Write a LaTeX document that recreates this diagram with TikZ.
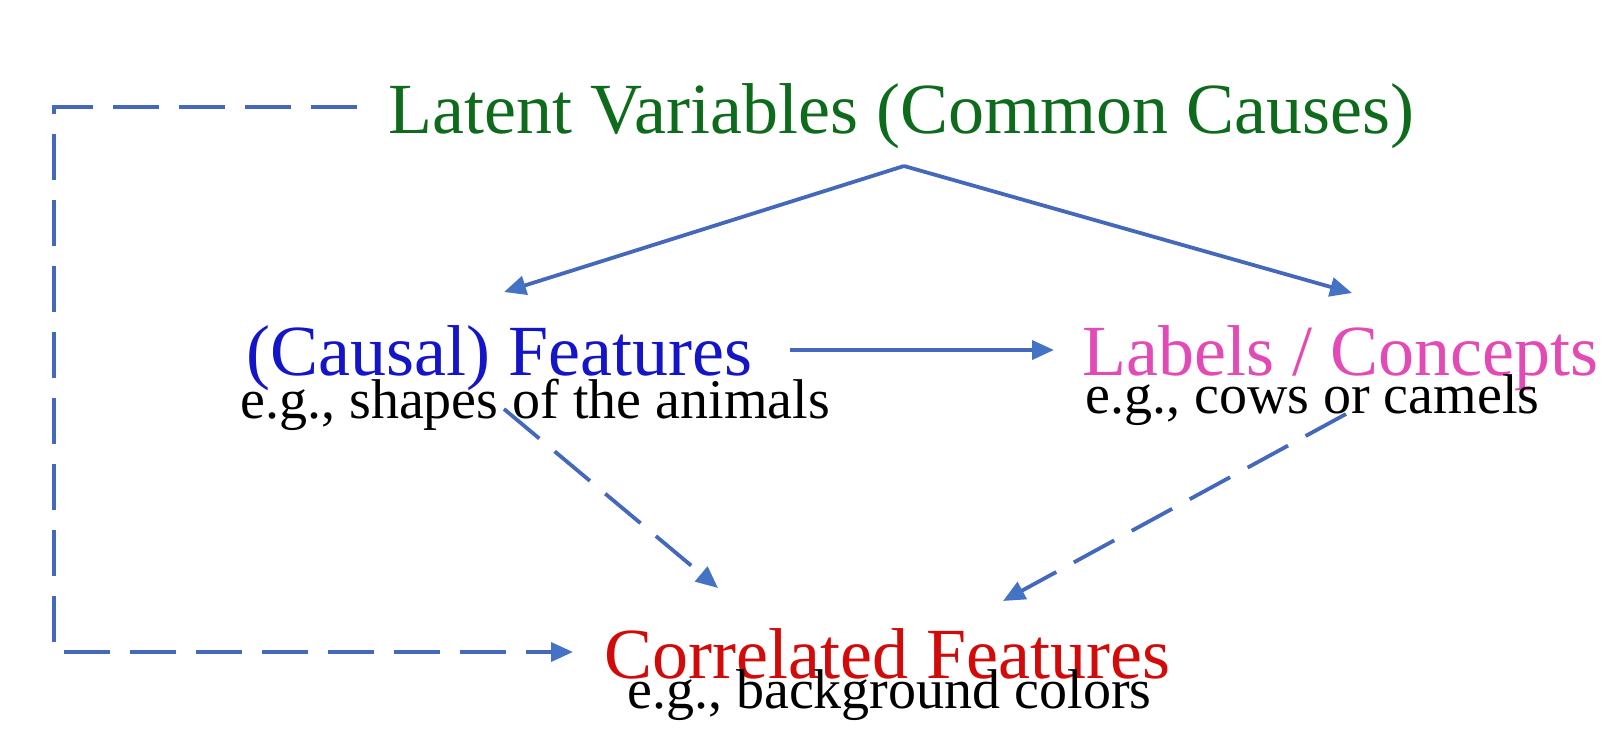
\documentclass[tikz,border=0pt]{standalone}
\usepackage{fontspec}
\setmainfont{Liberation Serif}
\usetikzlibrary{arrows.meta}
\definecolor{arrowblue}{HTML}{4468BC}
\definecolor{headblue}{HTML}{4472C4}
\definecolor{latentgreen}{HTML}{0E6B1C}
\definecolor{causalblue}{HTML}{1414C8}
\definecolor{labelpink}{HTML}{E24BB5}
\definecolor{corrred}{HTML}{D20A0A}
\tikzset{
  mainlabel/.style={anchor=base west, inner sep=0pt, font=\fontsize{36}{40}\selectfont},
  sublabel/.style={anchor=base west, inner sep=0pt, font=\fontsize{28}{32}\selectfont, text=black},
  conn/.style={draw=arrowblue, line width=1.9pt, -{Triangle[length=11pt,width=9.5pt,fill=headblue,color=headblue]}},
  dashconn/.style={conn, dash pattern=on 23pt off 10pt}
}
\begin{document}
\begin{tikzpicture}[x=0.5pt,y=-0.5pt]
\useasboundingbox (0,0) rectangle (1624,734);
% text nodes
\node[mainlabel, text=latentgreen] (latent) at (388,133) {Latent Variables (Common Causes)};
\node[mainlabel, text=causalblue] (causal) at (246,375) {(Causal) Features};
\node[sublabel] (causalex) at (240,418) {e.g., shapes of the animals};
\node[mainlabel, text=labelpink] (labels) at (1082,375) {Labels / Concepts};
\node[sublabel] (labelsex) at (1085,413) {e.g., cows or camels};
\node[mainlabel, text=corrred] (corr) at (604,678) {Correlated Features};
\node[sublabel] (correx) at (627,708) {e.g., background colors};
% connector end points
\coordinate (apex) at (904,166);
\coordinate (causalin) at (504,292);
\coordinate (labelsin) at (1352,293);
\coordinate (causalout) at (790,350);
\coordinate (labelsleft) at (1054,350);
\coordinate (causaldown) at (504,409);
\coordinate (corrinL) at (718,588);
\coordinate (labelsdown) at (1346,414);
\coordinate (corrinR) at (1003,601);
\coordinate (latentleft) at (357,107);
\coordinate (corrleft) at (573,652);
% connectors
\draw[conn] (apex) -- (causalin);
\draw[conn] (apex) -- (labelsin);
\draw[conn] (causalout) -- (labelsleft);
\draw[dashconn] (causaldown) -- (corrinL);
\draw[dashconn] (labelsdown) -- (corrinR);
\draw[dashconn] (latentleft) -- (54,107) -- (54,652) -- (corrleft);
\end{tikzpicture}
\end{document}
